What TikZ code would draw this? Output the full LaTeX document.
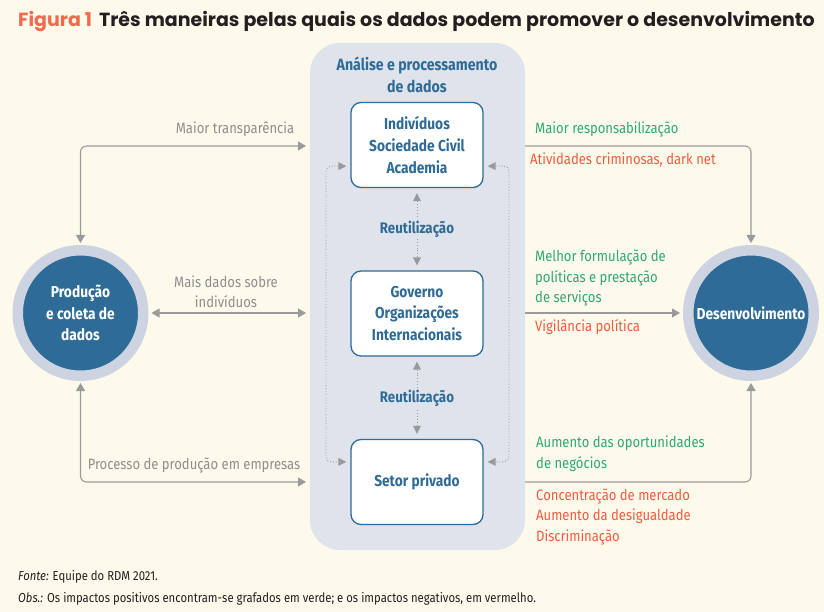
\documentclass[tikz,border=0pt]{standalone}
\usepackage{fontspec}
\setmainfont{Fira Sans}[FakeStretch=0.87]
\newfontfamily\titlefont{Poppins}
\usetikzlibrary{arrows.meta}
\definecolor{bg}{HTML}{FDFAEC}
\definecolor{panelc}{HTML}{DEE3EC}
\definecolor{dblue}{HTML}{2E6B96}
\definecolor{ring}{HTML}{CDD3E0}
\definecolor{gline}{HTML}{9A9A9A}
\definecolor{glab}{HTML}{8E8E8E}
\definecolor{pos}{HTML}{2FA874}
\definecolor{neg}{HTML}{F15B3E}
\definecolor{titlered}{HTML}{F26A4E}
\definecolor{ink}{HTML}{231F20}
\begin{document}
\begin{tikzpicture}[x=1pt,y=-1pt,
  actor/.style={draw=dblue, line width=1.3pt, fill=white, rounded corners=10pt,
    minimum width=132pt, minimum height=85pt, align=center, text=dblue,
    font=\bfseries\fontsize{15.8}{21.7}\selectfont},
  circ/.style={circle, fill=dblue, draw=ring, line width=10.5pt, minimum size=125.5pt,
    align=center, text=white, inner sep=0pt, font=\bfseries\fontsize{15.8}{21.5}\selectfont},
  conn/.style={draw=gline, line width=1.1pt, rounded corners=6pt,
    arrows={-Triangle[length=8pt,width=9pt,fill=gline]}},
  conn2/.style={conn, arrows={Triangle[length=8pt,width=9pt,fill=gline]-Triangle[length=8pt,width=9pt,fill=gline]}},
  dotarr/.style={draw=gline, line width=0.9pt, dotted, rounded corners=5pt,
    arrows={Triangle[length=8pt,width=8pt,fill=gline,line width=0pt]-Triangle[length=8pt,width=8pt,fill=gline,line width=0pt]}},
  glabel/.style={text=glab, align=center, inner sep=0pt, font=\fontsize{15}{19.5}\selectfont},
  poslab/.style={text=pos, align=left, inner sep=0pt, anchor=west, font=\fontsize{15}{20.5}\selectfont},
  neglab/.style={text=neg, align=left, inner sep=0pt, anchor=west, font=\fontsize{15}{20.5}\selectfont},
  reuse/.style={text=dblue, fill=panelc, inner sep=2pt, font=\bfseries\fontsize{15.3}{17}\selectfont},
  foot/.style={text=ink, anchor=west, inner sep=0pt, font=\fontsize{13}{15}\selectfont}
]
\useasboundingbox (0,0) rectangle (824,612);
\fill[bg] (0,0) rectangle (824,612);

% title
\node[anchor=base west, inner sep=0pt, font=\titlefont\bfseries\fontsize{19}{22}\selectfont] (title) at (18,27)
  {\textcolor{titlered}{Figura 1}\hspace{7pt}\textcolor{ink}{Três maneiras pelas quais os dados podem promover o desenvolvimento}};

% panel
\node[fill=panelc, rounded corners=30pt, minimum width=215pt, minimum height=507pt, inner sep=0pt] (panel) at (417.5,296.5) {};
\node[text=dblue, align=center, inner sep=0pt, font=\bfseries\fontsize{16.3}{22}\selectfont] (ptitle) at (417,75) {Análise e processamento\\de dados};

% actor boxes
\node[actor] (b1) at (417,145) {Indivíduos\\Sociedade Civil\\Academia};
\node[actor] (b2) at (417,313.5) {Governo\\Organizações\\Internacionais};
\node[actor] (b3) at (417,482) {Setor privado};

% circles
\node[circ] (prod) at (80.5,313) {Produção\\e coleta de\\dados};
\node[circ] (dev) at (751,313) {Desenvolvimento};

% reuse links
\draw[dotarr, shorten <=5pt, shorten >=5pt] (b1.south) -- (b2.north);
\node[reuse] (r1) at (417,229) {Reutilização};
\draw[dotarr, shorten <=5pt, shorten >=5pt] (b2.south) -- (b3.north);
\node[reuse] (r2) at (417,398) {Reutilização};

% dotted loops
\draw[dotarr] ([shift={(-4pt,22pt)}]b1.south west) -| (326,300) |- ([shift={(-4pt,-23pt)}]b3.north west);
\draw[dotarr] ([shift={(4pt,22pt)}]b1.south east) -| (509,300) |- ([shift={(4pt,-23pt)}]b3.north east);

% left connectors
\coordinate (lt) at (306,146);
\coordinate (lm) at (306,313);
\coordinate (lb) at (306,482);
\draw[conn2, shorten >=2pt] (lt) -| (prod.north);
\draw[conn2, shorten >=3pt] (lm) -- (prod.east);
\draw[conn2, shorten >=2pt] (lb) -| (prod.south);
\node[glabel] (l1) at (235,129) {Maior transparência};
\node[glabel] (l2) at (226,291.5) {Mais dados sobre\\indivíduos};
\node[glabel] (l3) at (194,465) {Processo de produção em empresas};

% right connectors
\coordinate (rt) at (panel.east |- lt);
\coordinate (rm) at (panel.east |- lm);
\coordinate (rb) at (panel.east |- lb);
\draw[conn, shorten >=2pt] (rt) -| (dev.north);
\draw[conn, shorten >=3pt] (rm) -- (dev.west);
\draw[conn, shorten >=2pt] (rb) -| (dev.south);

\node[poslab] (p1) at (535,129) {Maior responsabilização};
\node[neglab] (n1) at (530,160) {Atividades criminosas, dark net};
\node[poslab] (p2) at (535,278.5) {Melhor formulação de\\políticas e prestação\\de serviços};
\node[neglab] (n2) at (535,327) {Vigilância política};
\node[poslab] (p3) at (536,453.5) {Aumento das oportunidades\\de negócios};
\node[neglab] (n3) at (536,516.5) {Concentração de mercado\\Aumento da desigualdade\\Discriminação};

% footer
\node[foot] (f1) at (18,577) {\textit{Fonte:} Equipe do RDM 2021.};
\node[foot] (f2) at (18,599) {\textit{Obs.:} Os impactos positivos encontram-se grafados em verde; e os impactos negativos, em vermelho.};
\end{tikzpicture}
\end{document}
